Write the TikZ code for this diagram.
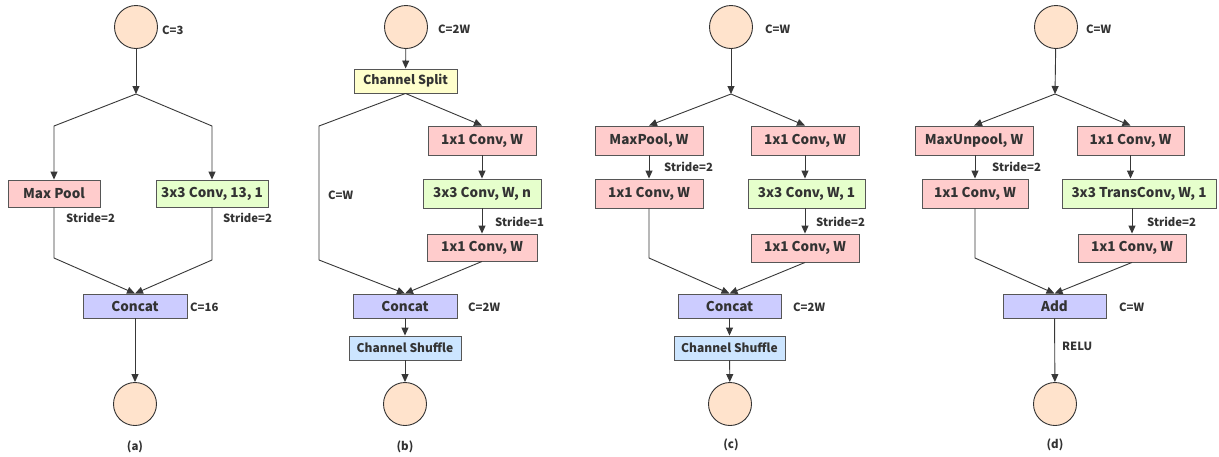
\documentclass[tikz,border=0pt]{standalone}
\usepackage{fontspec}
\setmainfont{Noto Sans CJK SC}
\usetikzlibrary{arrows.meta}
\definecolor{txt}{HTML}{333333}
\definecolor{ln}{HTML}{383838}
\definecolor{circ}{HTML}{FFE3CC}
\definecolor{pinkf}{HTML}{FFCCCC}
\definecolor{greenf}{HTML}{E6FFCC}
\definecolor{yellowf}{HTML}{FFFFCC}
\definecolor{purplef}{HTML}{CCCCFF}
\definecolor{bluef}{HTML}{CCE5FF}
\begin{document}
\begin{tikzpicture}[x=1pt,y=-1pt,
  every node/.style={text=txt,font=\bfseries},
  io/.style={circle,draw=txt,line width=0.9pt,fill=circ,minimum size=43pt,inner sep=0pt},
  box/.style={draw=ln!85,line width=0.9pt,inner sep=0pt,font=\fontsize{13.5}{15}\selectfont\bfseries},
  pinkbox/.style={box,fill=pinkf},
  greenbox/.style={box,fill=greenf},
  yellowbox/.style={box,fill=yellowf,font=\fontsize{12.5}{14}\selectfont\bfseries},
  purplebox/.style={box,fill=purplef},
  bluebox/.style={box,fill=bluef,font=\fontsize{12}{14}\selectfont\bfseries},
  lab/.style={anchor=west,inner sep=0pt,font=\fontsize{11.3}{13}\selectfont\bfseries},
  subcap/.style={inner sep=0pt,font=\fontsize{11.5}{13}\selectfont\bfseries},
  arr/.style={draw=ln,line width=0.9pt,-{Triangle[length=8pt,width=7pt]}},
  lin/.style={draw=ln,line width=0.9pt}
]
\useasboundingbox (0,0) rectangle (1219,456);
\fill[white] (0,0) rectangle (1219,456);

% ---------------- (a) ----------------
\node[io] (a0) at (136,27) {};
\node[pinkbox,minimum width=92pt,minimum height=27pt] (amp) at (54,193.5) {Max Pool};
\node[greenbox,minimum width=112pt,minimum height=27pt] (acv) at (212,193.5) {3x3 Conv, 13, 1};
\node[purplebox,minimum width=104pt,minimum height=24pt] (acat) at (135,306) {Concat};
\node[io] (a1) at (135,404) {};
\coordinate (aj) at (136,94);
\coordinate (ajl) at (54,126);
\coordinate (ajr) at (212,126);
\coordinate (abl) at (54,258);
\coordinate (abr) at (212,260);
\draw[arr] (a0) -- (aj);
\draw[arr] (aj) -- (ajl) -- (amp);
\draw[arr] (aj) -- (ajr) -- (acv);
\draw[arr] (amp) -- (abl) -- (acat.north);
\draw[arr] (acv) -- (abr) -- (acat.north);
\draw[arr] (acat) -- (a1);
\node[lab] (al1) at (162,30) {C=3};
\node[lab] (al2) at (66,218) {Stride=2};
\node[lab] (al3) at (223,218) {Stride=2};
\node[lab] (al4) at (190,307) {C=16};
\node[subcap] (acap) at (135,447) {(a)};

% ---------------- (b) ----------------
\node[io] (b0) at (406,27) {};
\node[yellowbox,minimum width=103pt,minimum height=24pt] (bsp) at (405.5,81) {Channel Split};
\node[pinkbox,minimum width=108pt,minimum height=29pt] (bc1) at (482,140.5) {1x1 Conv, W};
\node[greenbox,minimum width=118pt,minimum height=29pt] (bc2) at (482,193.5) {3x3 Conv, W, n};
\node[pinkbox,minimum width=110pt,minimum height=27pt] (bc3) at (482,247.5) {1x1 Conv, W};
\node[purplebox,minimum width=104pt,minimum height=24pt] (bcat) at (405,306) {Concat};
\node[bluebox,minimum width=112pt,minimum height=24pt] (bsh) at (405,348) {Channel Shuffle};
\node[io] (b1) at (405,404) {};
\coordinate (bt) at (319,126);
\coordinate (bb) at (319,260);
\draw[arr] (b0) -- (bsp);
\draw[lin] (bsp.south) -- (bt) -- (bb);
\draw[arr] (bb) -- (bcat.north);
\draw[arr] (bsp.south) -- (bc1.north);
\draw[arr] (bc1) -- (bc2);
\draw[arr] (bc2) -- (bc3);
\draw[arr] (bc3.south) -- (bcat.north);
\draw[arr] (bcat) -- (bsh);
\draw[arr] (bsh) -- (b1);
\node[lab] (bl1) at (438,29) {C=2W};
\node[lab] (bl2) at (328,195) {C=W};
\node[lab] (bl3) at (495,222) {Stride=1};
\node[lab] (bl4) at (468,307) {C=2W};
\node[subcap] (bcap) at (405,447) {(b)};

% ---------------- (c) ----------------
\node[io] (c0) at (731,27) {};
\node[pinkbox,minimum width=108pt,minimum height=29pt] (cmp) at (649,140.5) {MaxPool, W};
\node[pinkbox,minimum width=108pt,minimum height=29pt] (cc1) at (805,140.5) {1x1 Conv, W};
\node[pinkbox,minimum width=108pt,minimum height=29pt] (cc2) at (649,193.5) {1x1 Conv, W};
\node[greenbox,minimum width=117pt,minimum height=29pt] (cc3) at (806.5,193.5) {3x3 Conv, W, 1};
\node[pinkbox,minimum width=108pt,minimum height=28pt] (cc4) at (805,248) {1x1 Conv, W};
\node[purplebox,minimum width=103pt,minimum height=24pt] (ccat) at (729.5,306) {Concat};
\node[bluebox,minimum width=111pt,minimum height=24pt] (csh) at (729.5,348) {Channel Shuffle};
\node[io] (c1) at (730,404) {};
\coordinate (cj) at (731,94);
\coordinate (cbl) at (649,258);
\draw[arr] (c0) -- (cj);
\draw[arr] (cj) -- (cmp.north);
\draw[arr] (cj) -- (cc1.north);
\draw[arr] (cmp) -- (cc2);
\draw[arr] (cc1.south) -- (cc1.south |- cc3.north);
\draw[arr] (cc3.south -| cc4.north) -- (cc4.north);
\draw[arr] (cc2) -- (cbl) -- (ccat.north);
\draw[arr] (cc4.south) -- (ccat.north);
\draw[arr] (ccat) -- (csh);
\draw[arr] (csh) -- (c1);
\node[lab] (cl1) at (765,29) {C=W};
\node[lab] (cl2) at (664,167) {Stride=2};
\node[lab] (cl3) at (816,222) {Stride=2};
\node[lab] (cl4) at (793,307) {C=2W};
\node[subcap] (ccap) at (731,445) {(c)};

% ---------------- (d) ----------------
\node[io] (d0) at (1056,27) {};
\node[pinkbox,minimum width=118pt,minimum height=29pt] (dmp) at (974,140.5) {MaxUnpool, W};
\node[pinkbox,minimum width=107pt,minimum height=29pt] (dc1) at (1130.5,140.5) {1x1 Conv, W};
\node[pinkbox,minimum width=106pt,minimum height=29pt] (dc2) at (975,193.5) {1x1 Conv, W};
\node[greenbox,minimum width=154pt,minimum height=29pt] (dc3) at (1139,193.5) {3x3 TransConv, W, 1};
\node[pinkbox,minimum width=108pt,minimum height=28pt] (dc4) at (1132,248) {1x1 Conv, W};
\node[purplebox,minimum width=103pt,minimum height=24pt] (dadd) at (1054.5,306) {Add};
\node[io] (d1) at (1055,404) {};
\coordinate (dj) at (1055,94);
\coordinate (dbl) at (975,258);
\draw[arr] (d0) -- (dj);
\draw[arr] (dj) -- (dmp.north);
\draw[arr] (dj) -- (dc1.north);
\draw[arr] (dmp.south -| dc2.north) -- (dc2.north);
\draw[arr] (dc1.south) -- (dc1.south |- dc3.north);
\draw[arr] (dc3.south -| dc4.north) -- (dc4.north);
\draw[arr] (dc2) -- (dbl) -- (dadd.north);
\draw[arr] (dc4.south) -- (dadd.north);
\draw[arr] (dadd) -- (d1);
\node[lab] (dl1) at (1086,29) {C=W};
\node[lab] (dl2) at (992,167) {Stride=2};
\node[lab] (dl3) at (1147,222) {Stride=2};
\node[lab] (dl4) at (1119,307) {C=W};
\node[lab] (dl5) at (1062,346) {RELU};
\node[subcap] (dcap) at (1055,445) {(d)};
\end{tikzpicture}
\end{document}
